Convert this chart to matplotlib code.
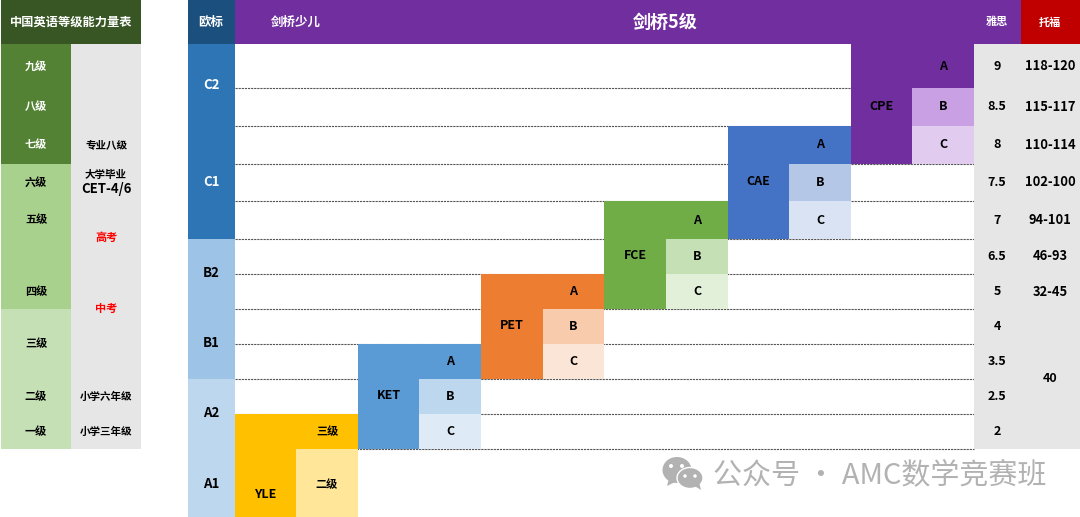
# -*- coding: utf-8 -*-
import matplotlib
matplotlib.use("Agg")
import matplotlib.pyplot as plt
from matplotlib.patches import Ellipse, Polygon, Rectangle

plt.rcParams["font.family"] = ["Noto Sans CJK SC", "DejaVu Sans"]

# 数据
cn_levels = ["九级", "八级", "七级", "六级", "五级", "四级", "三级", "二级", "一级"]
cn_refs = ["专业八级", "大学毕业", "小学六年级", "小学三年级"]
cn_cet = "CET-4/6"
cn_exams = ["高考", "中考"]
cefr = ["C2", "C1", "B2", "B1", "A2", "A1"]
ielts = ["9", "8.5", "8", "7.5", "7", "6.5", "5", "4", "3.5", "2.5", "2"]
toefl = ["118-120", "115-117", "110-114", "102-100", "94-101", "46-93", "32-45"]
toefl_low = "40"
cambridge = ["CPE", "CAE", "FCE", "PET", "KET"]
grades = ["A", "B", "C"]

# 版面 (像素)
W, H = 1080, 517
ROW = [0, 44, 88, 126, 164, 201, 239, 274, 309, 344, 379, 414, 449, 517]
COL = [235, 296, 358, 419, 481, 543, 604, 666, 728, 789, 851, 912, 974]

fig = plt.figure(figsize=(W / 100, H / 100), dpi=100)
ax = fig.add_axes([0, 0, 1, 1])
ax.set_xlim(0, W)
ax.set_ylim(H, 0)
ax.axis("off")


def box(x0, x1, y0, y1, color, z=2):
    ax.add_patch(Rectangle((x0, y0), x1 - x0, y1 - y0, fc=color, ec="none", zorder=z))


def label(x, y, s, size=8, color="black", weight="bold", **kw):
    ax.text(x, y, s, fontsize=size, color=color, fontweight=weight, ha="center",
            va="center", zorder=5, **kw)


def mid(i):
    return (ROW[i] + ROW[i + 1]) / 2


# 左表
box(1, 141, 0, 44, "#375623")
box(1, 71, 44, 164, "#548235")
box(1, 71, 164, 309, "#A9D18E")
box(1, 71, 309, 449, "#C5E0B4")
box(71, 141, 44, 449, "#E7E6E6")
label(71, 22, "中国英语等级能力量表", size=8.8, color="white")
level_y = [mid(1), mid(2), mid(3), mid(4), mid(5), mid(7), ROW[9], mid(10), mid(11)]
for i, (s, y) in enumerate(zip(cn_levels, level_y)):
    label(36, y, s, color="white" if i < 3 else "black")
ref_y = [mid(3), 175, mid(10), mid(11)]
for s, y in zip(cn_refs, ref_y):
    label(106, y, s, size=7.6)
label(106, 189, cn_cet, size=9.5, weight="bold")
for s, y in zip(cn_exams, [237, 308]):
    label(106, y, s, color="#FF0000")

# 表头
box(188, 235, 0, 44, "#1A4F7E")
box(235, 1021, 0, 44, "#702E9E")
box(1021, 1080, 0, 44, "#C00000")
label(211, 22, "欧标", size=9, color="white")
label(296, 22, "剑桥少儿", size=9, color="white")
label(665, 22, "剑桥5级", size=13, color="white")
label(997, 22, "雅思", color="white")
label(1050, 22, "托福", color="white")

# 欧标列
box(188, 235, 44, 239, "#2E75B6")
box(188, 235, 239, 379, "#9DC3E6")
box(188, 235, 379, 517, "#BDD7EE")
cefr_y = [85, 182, 273, 343, 413, 484]
for i, (s, y) in enumerate(zip(cefr, cefr_y)):
    label(211, y, s, size=9.5, color="white" if i < 2 else "black")

# 虚线
for y in ROW[2:13]:
    ax.plot([235, 974], [y, y], color="#555555", lw=0.8, ls=(0, (2, 0.8)), zorder=1)

# 雅思/托福
box(974, 1080, 44, 449, "#E7E6E6")
for i, s in enumerate(ielts):
    label(997, mid(i + 1), s, size=9)
for i, s in enumerate(toefl):
    label(1050, mid(i + 1), s, size=9.3)
label(1050, ROW[9] + 34, toefl_low, size=9)

# 剑桥五级阶梯
block_cols = [10, 8, 6, 4, 2]
block_rows = [1, 3, 5, 7, 9]
block_colors = [
    ("#702E9E", "#C9A0E3", "#E1CBEE"),
    ("#4472C4", "#B4C7E7", "#DAE3F3"),
    ("#70AD47", "#C5E0B4", "#E2F0D9"),
    ("#ED7D31", "#F8CBAD", "#FBE5D6"),
    ("#5B9BD5", "#BDD7EE", "#DEEBF7"),
]
for name, c, r, colors in zip(cambridge, block_cols, block_rows, block_colors):
    box(COL[c], COL[c + 1], ROW[r], ROW[r + 3], colors[0])
    label((COL[c] + COL[c + 1]) / 2, mid(r + 1) - 1, name, size=9)
    for k, g in enumerate(grades):
        box(COL[c + 1], COL[c + 2], ROW[r + k], ROW[r + k + 1], colors[k])
        label((COL[c + 1] + COL[c + 2]) / 2, mid(r + k), g, size=9)

# YLE
box(COL[0], COL[1], ROW[11], ROW[13], "#FFC000")
box(COL[1], COL[2], ROW[11], ROW[12], "#FFC000")
box(COL[1], COL[2], ROW[12], ROW[13], "#FFE699")
label(265, 495, "YLE", size=9)
label(327, mid(11), "三级")
label(327, mid(12) + 2, "二级")

# 水印
wm = "#B2B2B2"
ax.add_patch(Ellipse((677, 470), 29, 26, fc=wm, ec="none", zorder=6))
ax.add_patch(Polygon([(669, 478), (667, 486), (677, 481)], fc=wm, ec="none", zorder=6))
ax.add_patch(Ellipse((690, 478), 26, 21, fc=wm, ec="white", lw=1, zorder=7))
ax.add_patch(Polygon([(693, 485), (701, 490), (699, 482)], fc=wm, ec="none", zorder=7))
for x, y, r, z in [(671, 466, 4, 7), (682, 466, 4, 7), (685, 476, 3.5, 8), (695, 476, 3.5, 8)]:
    ax.add_patch(Ellipse((x, y), r, r, fc="white", ec="none", zorder=z))
ax.text(713, 475, "公众号 · AMC数学竞赛班", fontsize=20.9, color=wm, ha="left", va="center", zorder=6)

fig.savefig("out.png", dpi=100)
